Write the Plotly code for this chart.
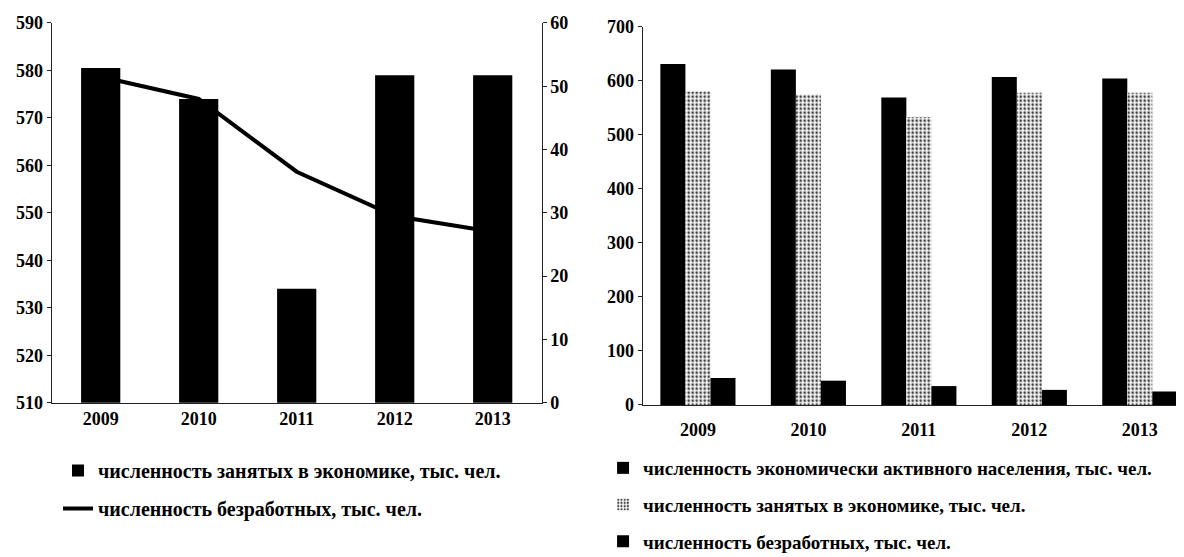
import plotly.graph_objects as go

years = ["2009", "2010", "2011", "2012", "2013"]
employed = [580.5, 574, 534, 579, 579]
unemployed_line = [51.5, 48, 36.5, 29.5, 27]
active = [631, 621, 569, 607, 604]
employed_r = [580, 574, 533, 578, 578]
unemployed_r = [50, 45, 35, 28, 25]

name_emp = "численность занятых в экономике, тыс. чел."
name_unemp = "численность безработных, тыс. чел."
name_active = "численность экономически активного населения, тыс. чел."

FONT = "Liberation Serif"
tick_font = dict(family=FONT, size=18, color="black", weight="bold")
leg_font = dict(family=FONT, size=20, color="black", weight="bold")
leg2_font = dict(family=FONT, size=19, color="black", weight="bold")

# the page body has an 8px margin, so the figure is drawn 8px in from the window edges
W, H = 1176, 549

fig = go.Figure()

# left chart: line on base axis (drawn below), bars on overlaying axis
fig.add_trace(go.Scatter(x=years, y=unemployed_line, mode="lines", name=name_unemp,
                         line=dict(color="black", width=4), xaxis="x", yaxis="y",
                         legend="legend", legendgroup="l2", legendrank=2))
fig.add_trace(go.Bar(x=years, y=employed, name=name_emp, marker=dict(color="black", line=dict(width=0)),
                     width=0.4, xaxis="x", yaxis="y2", legend="legend", legendgroup="l1",
                     legendrank=1))

# right chart
fig.add_trace(go.Bar(x=years, y=active, name=name_active, marker=dict(color="black", line=dict(width=0)),
                     xaxis="x2", yaxis="y3", legend="legend2", legendgroup="r1"))
fig.add_trace(go.Bar(x=years, y=employed_r, name=name_emp,
                     marker=dict(color="white", line=dict(width=0),
                                 pattern=dict(shape=".", fgcolor="#444444", bgcolor="white",
                                              size=4, solidity=0.38)),
                     xaxis="x2", yaxis="y3", legend="legend2", legendgroup="r2"))
fig.add_trace(go.Bar(x=years, y=unemployed_r, name=name_unemp, marker=dict(color="black", line=dict(width=0)),
                     xaxis="x2", yaxis="y3", legend="legend2", legendgroup="r3"))

axis_common = dict(showgrid=False, zeroline=False, showline=True, linecolor="#222222",
                   linewidth=1, ticks="outside", ticklen=4, tickcolor="#222222",
                   tickfont=tick_font, automargin=False)

fig.update_layout(
    width=W, height=H,
    template="none",
    paper_bgcolor="white", plot_bgcolor="rgba(0,0,0,0)",
    margin=dict(l=0, r=0, t=0, b=0, autoexpand=False),
    barmode="group", bargap=0.32, bargroupgap=0,
    xaxis=dict(domain=[0.03716, 0.45383], type="category", range=[-0.5, 4.5],
               **{**axis_common, "ticks": ""}, ticklabelstandoff=0),
    yaxis=dict(domain=[0.28106, 0.97268], range=[0, 60], dtick=10, side="right",
               anchor="x", **axis_common),
    yaxis2=dict(domain=[0.28106, 0.97268], range=[510, 590], dtick=10, side="left",
                overlaying="y", anchor="x", **axis_common),
    xaxis2=dict(domain=[0.5397, 1.0], type="category", range=[-0.5, 4.4], anchor="y3",
                **{**axis_common, "ticks": ""}, ticklabelstandoff=8),
    yaxis3=dict(domain=[0.27687, 0.96594], range=[0, 700], dtick=100, anchor="x2",
                **axis_common),
    legend=dict(x=0.0425, y=1 - 443 / H, xanchor="left", yanchor="top",
                font=leg_font, bgcolor="rgba(0,0,0,0)", traceorder="grouped",
                tracegroupgap=9, itemwidth=30),
    legend2=dict(x=0.506, y=1 - 441 / H, xanchor="left", yanchor="top",
                 font=leg2_font, bgcolor="rgba(0,0,0,0)", traceorder="grouped",
                 tracegroupgap=9, itemwidth=30),
    showlegend=True,
)

fig.write_html("out.html")
